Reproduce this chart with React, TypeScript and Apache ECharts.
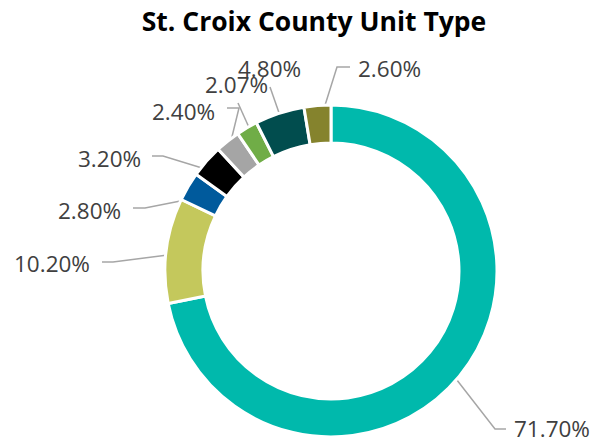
import React, { useEffect, useRef } from "react";
import * as echarts from "echarts";

const TITLE = "St. Croix County Unit Type";
const categories = ["Type A", "Type B", "Type C", "Type D", "Type E", "Type F", "Type G", "Type H"];
const values = [71.7, 10.2, 2.8, 3.2, 2.4, 2.07, 4.8, 2.6];
const colors = ["#00B9AC", "#C4C85C", "#005A9C", "#000000", "#A5A5A5", "#70AD47", "#014D4E", "#85832D"];

// label layout (positions only)
const CENTER: [number, number] = [331, 271];
const LABEL_LAYOUT = [
  { x: 514, y: 428, pts: [[495, 429], [506, 429]], r: 147 },
  { x: 14, y: 263, pts: [[113, 262], [102, 262]], r: 147 },
  { x: 58, y: 210, pts: [[145, 208], [133, 208]], r: 147 },
  { x: 78, y: 158, pts: [[163, 156], [152, 156]], r: 147 },
  { x: 152, y: 111, pts: [[239, 108], [227, 108]], r: 162 },
  { x: 205, y: 84, pts: [[238, 103], [238, 103]], r: 147 },
  { x: 238, y: 68, pts: [[270, 87], [270, 87]], r: 147 },
  { x: 358, y: 68, pts: [[337, 67], [350, 67]], r: 147 },
];

export default function App() {
  const ref = useRef<HTMLDivElement>(null);
  useEffect(() => {
    document.body.style.margin = "0";
    const chart = echarts.init(ref.current!, null, { renderer: "svg" });
    const total = values.reduce((a, b) => a + b, 0);
    const mids: number[] = [];
    let acc = 0;
    values.forEach((v) => {
      mids.push(((acc + v / 2) / total) * Math.PI * 2);
      acc += v;
    });
    chart.setOption({
      animation: false,
      title: {
        text: TITLE,
        left: 309,
        top: 2,
        textAlign: "center",
        textStyle: { fontFamily: "Open Sans", fontWeight: "bold", fontSize: 26.5, color: "#000" },
      },
      series: [
        {
          type: "pie",
          center: CENTER,
          radius: [128, 166],
          startAngle: 90,
          clockwise: true,
          avoidLabelOverlap: false,
          data: values.map((v, i) => ({ name: categories[i], value: v, itemStyle: { color: colors[i] } })),
          itemStyle: { borderColor: "#fff", borderWidth: 3 },
          label: {
            show: true,
            position: "outside",
            formatter: (p: any) => p.value.toFixed(2) + "%",
            fontFamily: "Open Sans",
            fontSize: 22.5,
            lineHeight: 22,
            color: "#404040",
          },
          labelLine: { show: true, lineStyle: { color: "#A6A6A6", width: 1.5 } },
          emphasis: { disabled: true },
          labelLayout: (p: any) => {
            const L = LABEL_LAYOUT[p.dataIndex];
            const a = mids[p.dataIndex];
            const sx = CENTER[0] + L.r * Math.sin(a);
            const sy = CENTER[1] - L.r * Math.cos(a);
            return {
              x: L.x,
              y: L.y,
              align: "left",
              verticalAlign: "middle",
              labelLinePoints: [[sx, sy], L.pts[0], L.pts[1]],
            };
          },
        },
      ],
    });
    return () => chart.dispose();
  }, []);
  return <div ref={ref} style={{ width: 598, height: 445 }} />;
}
